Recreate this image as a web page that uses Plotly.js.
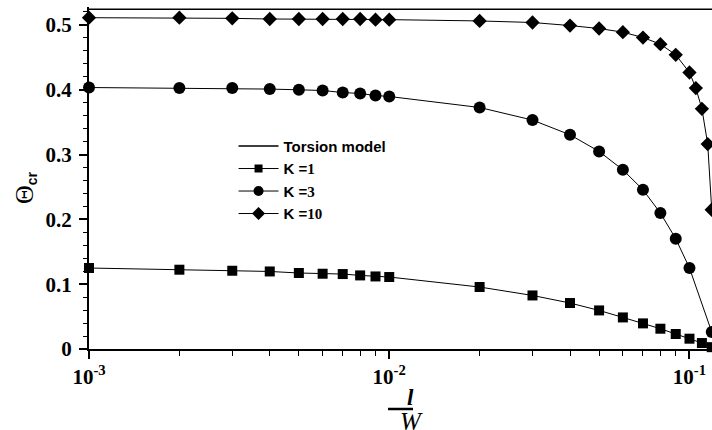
<!DOCTYPE html>
<html>
<head>
<meta charset="utf-8">
<script src="https://cdn.plot.ly/plotly-3.0.1.min.js"></script>
<style>html,body{margin:0;padding:0;background:#fff;}#chart{width:712px;height:430px;}</style>
</head>
<body>
<div id="chart"></div>
<script>
// l/W values
var xK1 = [0.001,0.002,0.003,0.004,0.005,0.006,0.007,0.008,0.009,0.01,0.02,0.03,0.04,0.05,0.06,0.07,0.08,0.09,0.1,0.11,0.1186];
var yK1 = [0.1249,0.1223,0.1207,0.1196,0.1172,0.1161,0.1156,0.1135,0.1119,0.1110,0.0956,0.0826,0.0709,0.0595,0.0487,0.0395,0.0313,0.0231,0.0159,0.0092,0.0028];

var xK3 = [0.001,0.002,0.003,0.004,0.005,0.006,0.007,0.008,0.009,0.01,0.02,0.03,0.04,0.05,0.06,0.07,0.08,0.09,0.1,0.1186];
var yK3 = [0.4033,0.4024,0.4024,0.4009,0.3998,0.3987,0.3956,0.3941,0.3910,0.3895,0.3725,0.3531,0.3304,0.3047,0.2764,0.2456,0.2097,0.1701,0.1249,0.0262];

var xK10 = [0.001,0.002,0.003,0.004,0.005,0.006,0.007,0.008,0.009,0.01,0.02,0.03,0.04,0.05,0.06,0.07,0.08,0.09,0.1,0.105,0.11,0.115,0.1186];
var yK10 = [0.511,0.511,0.510,0.509,0.509,0.509,0.509,0.509,0.508,0.508,0.506,0.5036,0.4989,0.4943,0.4887,0.4804,0.4702,0.4537,0.4265,0.4024,0.3705,0.3161,0.2148];

var xTorsion = [0.001, 0.2];
var yTorsion = [0.524, 0.524];

var seriesNames = ['Torsion model', 'K =<span style="font-family:\'Liberation Serif\'">1</span>', 'K =<span style="font-family:\'Liberation Serif\'">3</span>', 'K =<span style="font-family:\'Liberation Serif\'">10</span>'];

var majorX = [0.001, 0.01, 0.1];
var majorXText = ['<b>10<sup>-3</sup></b>', '<b>10<sup>-2</sup></b>', '<b>10<sup>-1</sup></b>'];
var minorX = [0.002,0.003,0.004,0.005,0.006,0.007,0.008,0.009,0.02,0.03,0.04,0.05,0.06,0.07,0.08,0.09];
var majorY = [0, 0.1, 0.2, 0.3, 0.4, 0.5];
var majorYText = ['<b>0</b>', '<b>0.1</b>', '<b>0.2</b>', '<b>0.3</b>', '<b>0.4</b>', '<b>0.5</b>'];

var symbols = ['square', 'circle', 'diamond'];
var plotSizes = [10, 12, 11];
var legendSizes = [8, 10, 10];
var xs = [xK1, xK3, xK10];
var ys = [yK1, yK3, yK10];

var traces = [
  {x: xTorsion, y: yTorsion, name: seriesNames[0], mode: 'lines', line: {color: '#000', width: 1.5}, showlegend: true}
];
// data traces (no legend entry)
for (var i = 0; i < 3; i++) {
  traces.push({x: xs[i], y: ys[i], name: seriesNames[i + 1], mode: 'lines+markers', cliponaxis: false, showlegend: false,
    line: {color: '#000', width: 1}, marker: {symbol: symbols[i], size: plotSizes[i], color: '#000'}});
}
// legend-only entries with smaller symbols (no data)
for (var j = 0; j < 3; j++) {
  traces.push({x: [null], y: [null], name: seriesNames[j + 1], mode: 'lines+markers', showlegend: true,
    line: {color: '#000', width: 1}, marker: {symbol: symbols[j], size: legendSizes[j], color: '#000'}});
}

function serifFont(sz) { return {family: 'Liberation Serif, Times New Roman, serif', size: sz, color: '#000'}; }

var layout = {
  width: 712, height: 430,
  margin: {l: 89, r: 0, t: 7, b: 81},
  paper_bgcolor: '#fff', plot_bgcolor: '#fff',
  showlegend: true,
  legend: {x: 0.232, y: 0.641, xanchor: 'left', yanchor: 'top', bgcolor: 'rgba(0,0,0,0)',
           font: {family: 'Liberation Sans, Arial, sans-serif', size: 15, color: '#000', weight: 'bold'},
           tracegroupgap: 0, itemsizing: 'trace', itemwidth: 40},
  xaxis: {
    type: 'log', range: [-3, -0.925], showgrid: false, zeroline: false,
    showline: true, linecolor: '#000', linewidth: 2,
    tickmode: 'array', tickvals: majorX, ticktext: majorXText,
    ticks: 'outside', ticklen: 8, tickwidth: 2, tickcolor: '#000',
    tickfont: serifFont(21),
    minor: {tickmode: 'array', tickvals: minorX, ticks: 'outside', ticklen: 5, tickwidth: 1, tickcolor: '#000', showgrid: false}
  },
  yaxis: {
    range: [0, 0.5275], showgrid: false, zeroline: false,
    showline: true, linecolor: '#000', linewidth: 2,
    tickmode: 'array', tickvals: majorY, ticktext: majorYText,
    ticks: 'outside', ticklen: 8, tickwidth: 2, tickcolor: '#000',
    tickfont: serifFont(21), ticklabelstandoff: 3,
    minor: {tickmode: 'linear', tick0: 0, dtick: 0.02, ticks: 'outside', ticklen: 4, tickwidth: 1, tickcolor: '#000', showgrid: false}
  },
  annotations: [
    {xref: 'paper', yref: 'paper', x: (25-89)/623, y: (349-188)/342, showarrow: false, textangle: -90,
     text: '<span style="font-family:\'Liberation Serif\';font-size:26px">Θ</span><sub><b>cr</b></sub>',
     font: {family: 'Liberation Sans, Arial, sans-serif', size: 20, color: '#000'}, xanchor: 'center', yanchor: 'middle'},
    {xref: 'paper', yref: 'paper', x: 0.5, y: 0, yshift: -48, xshift: 10, showarrow: false,
     text: '<b><i>l</i></b>', font: serifFont(23), xanchor: 'center', yanchor: 'middle'},
    {xref: 'paper', yref: 'paper', x: 0.5, y: 0, yshift: -72, xshift: 11, showarrow: false,
     text: '<i>W</i>', font: serifFont(25), xanchor: 'center', yanchor: 'middle'}
  ],
  shapes: [
    {type: 'line', xref: 'paper', yref: 'paper', x0: (388-89)/623, x1: (413-89)/623, y0: (349-409)/342, y1: (349-409)/342,
     line: {color: '#000', width: 2.5}}
  ]
};

Plotly.newPlot('chart', traces, layout, {displayModeBar: false, staticPlot: true});
</script>
</body>
</html>
